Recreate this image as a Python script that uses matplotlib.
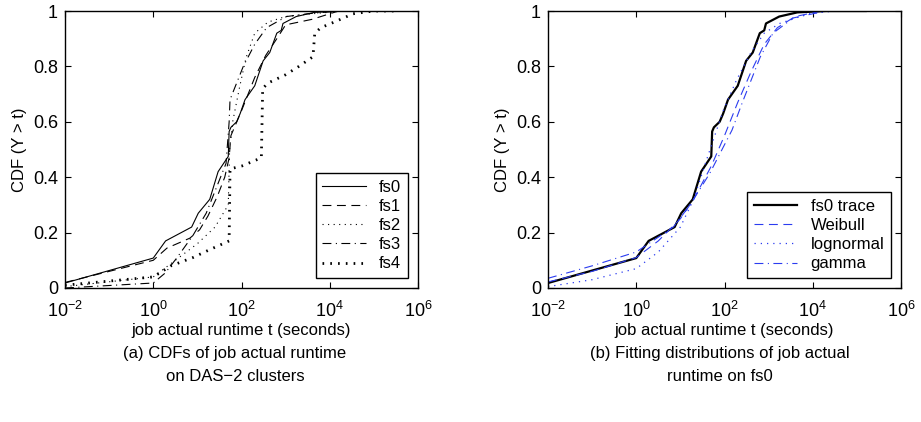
import numpy as np
import matplotlib
matplotlib.use('Agg')
import matplotlib.pyplot as plt

plt.rcParams['font.family'] = ['Liberation Sans', 'DejaVu Sans']
plt.rcParams['mathtext.fontset'] = 'custom'
plt.rcParams['mathtext.rm'] = 'Liberation Sans'

# Data (log10 of runtime in seconds, CDF value)
fs0_log = [-2, 0, 0.28, 0.87, 1.02, 1.28, 1.47, 1.70, 1.72, 1.76, 1.89, 1.97, 2.08, 2.30,
           2.49, 2.64, 2.80, 2.90, 2.94, 3.24, 3.65, 4.3, 5.2]
fs0_cdf = [0.018, 0.108, 0.17, 0.22, 0.27, 0.32, 0.42, 0.475, 0.565, 0.58, 0.60, 0.63, 0.68, 0.73,
           0.82, 0.85, 0.92, 0.93, 0.955, 0.98, 0.995, 1.0, 1.0]

fs1_log = [-2, 0, 0.31, 0.83, 1.05, 1.24, 1.45, 1.62, 1.72, 1.76, 2.0, 2.3, 2.55, 2.8, 3.0, 3.6, 4.2, 5.3]
fs1_cdf = [0.02, 0.10, 0.144, 0.18, 0.21, 0.26, 0.33, 0.40, 0.47, 0.55, 0.64, 0.76, 0.84, 0.90, 0.95, 0.97, 1.0, 1.0]

fs2_log = [-2, 0, 0.5, 1.0, 1.4, 1.7, 1.73, 1.8, 1.95, 2.1, 2.3, 2.6, 3.0, 3.6, 4.3, 5.5]
fs2_cdf = [0.005, 0.04, 0.10, 0.16, 0.22, 0.30, 0.50, 0.60, 0.72, 0.83, 0.92, 0.96, 0.98, 0.99, 1.0, 1.0]

fs3_log = [-2, 0, 0.27, 0.54, 0.9, 1.2, 1.45, 1.65, 1.72, 1.74, 2.04, 2.3, 2.57, 3.02, 3.5, 4.2, 5.5]
fs3_cdf = [0.0, 0.018, 0.054, 0.11, 0.19, 0.27, 0.37, 0.45, 0.60, 0.68, 0.80, 0.88, 0.94, 0.98, 0.99, 1.0, 1.0]

fs4_log = [-2, 0, 0.4, 0.9, 1.3, 1.72, 1.74, 2.0, 2.3, 2.45, 2.48, 2.6, 3.0, 3.3, 3.62, 3.66, 3.8, 4.1, 4.53, 5.0, 5.5]
fs4_cdf = [0.01, 0.04, 0.08, 0.11, 0.14, 0.17, 0.43, 0.44, 0.46, 0.47, 0.72, 0.74, 0.77, 0.80, 0.835, 0.92, 0.94, 0.96, 0.99, 1.0, 1.0]

weib_log = [-2, -1, 0, 0.5, 1.0, 1.3, 1.7, 2.0, 2.3, 2.6, 2.9, 3.2, 3.6, 4.2, 5.2]
weib_cdf = [0.022, 0.06, 0.11, 0.17, 0.25, 0.32, 0.44, 0.55, 0.67, 0.78, 0.88, 0.94, 0.98, 1.0, 1.0]

logn_log = [-2, -1, 0, 0.5, 1.0, 1.3, 1.63, 1.97, 2.27, 2.6, 2.9, 3.25, 3.9, 4.5, 5.2]
logn_cdf = [0.005, 0.03, 0.07, 0.13, 0.22, 0.32, 0.48, 0.64, 0.75, 0.85, 0.92, 0.955, 0.99, 1.0, 1.0]

gamma_log = [-2, -1, 0, 0.84, 1.22, 1.67, 2.17, 2.4, 2.81, 3.1, 3.56, 4.3, 5.2]
gamma_cdf = [0.035, 0.08, 0.13, 0.22, 0.30, 0.415, 0.57, 0.668, 0.834, 0.92, 0.975, 1.0, 1.0]

xticks = [1e-2, 1e0, 1e2, 1e4, 1e6]
xticklabels = ['$10^{-2}$', '$10^{0}$', '$10^{2}$', '$10^{4}$', '$10^{6}$']
yticks = [0, 0.2, 0.4, 0.6, 0.8, 1]
yticklabels = ['0', '0.2', '0.4', '0.6', '0.8', '1']

fig = plt.figure(figsize=(9.21, 4.22), dpi=100)
ax1 = fig.add_axes([65 / 921, 1 - 288 / 422, 353 / 921, 277 / 422])
ax2 = fig.add_axes([548 / 921, 1 - 288 / 422, 353 / 921, 277 / 422])


def tx(v):
    return 10 ** np.array(v)


# Left panel: CDFs on the five clusters
ax1.plot(tx(fs0_log), fs0_cdf, 'k-', lw=0.8, label='fs0')
ax1.plot(tx(fs1_log), fs1_cdf, 'k', lw=0.8, ls=(0, (8, 5)), label='fs1')
ax1.plot(tx(fs2_log), fs2_cdf, 'k', lw=0.8, ls=(0, (1, 4)), label='fs2')
ax1.plot(tx(fs3_log), fs3_cdf, 'k', lw=0.8, ls=(0, (8, 4, 1, 4)), label='fs3')
ax1.plot(tx(fs4_log), fs4_cdf, 'k', lw=2.0, ls=(0, (0.6, 2.2)), label='fs4')

# Right panel: fitted distributions
ax2.plot(tx(fs0_log), fs0_cdf, 'k-', lw=1.6, label='fs0 trace')
ax2.plot(tx(weib_log), weib_cdf, color='#2b3cf0', lw=0.8, ls=(0, (8, 5)), label='Weibull')
ax2.plot(tx(logn_log), logn_cdf, color='#2b3cf0', lw=0.9, ls=(0, (1, 4)), label='lognormal')
ax2.plot(tx(gamma_log), gamma_cdf, color='#2b3cf0', lw=0.8, ls=(0, (8, 4, 1, 4)), label='gamma')

for ax in (ax1, ax2):
    ax.set_xscale('log')
    ax.set_xlim(1e-2, 1e6)
    ax.set_ylim(0, 1)
    ax.set_xticks(xticks)
    ax.set_xticklabels(xticklabels)
    ax.xaxis.set_minor_locator(matplotlib.ticker.NullLocator())
    ax.set_yticks(yticks)
    ax.set_yticklabels(yticklabels)
    ax.tick_params(direction='in', top=True, right=True, labelsize=13, length=4, pad=5)
    ax.tick_params(axis='x', pad=9)
    ax.set_xlabel('job actual runtime t (seconds)', fontsize=12, labelpad=2)
    ax.set_ylabel('CDF (Y > t)', fontsize=12, labelpad=4)
    for s in ax.spines.values():
        s.set_linewidth(1.0)

leg_kw = dict(loc='lower right', fontsize=12, frameon=True, fancybox=False,
              edgecolor='black', framealpha=1, handlelength=2.6, borderpad=0.4,
              labelspacing=0.25, handletextpad=0.8, borderaxespad=0.6)
l1 = ax1.legend(**leg_kw)
l2 = ax2.legend(**leg_kw)
for lg in (l1, l2):
    lg.get_frame().set_linewidth(1.0)

fig.text(235 / 921, 1 - 365 / 422, '(a) CDFs of job actual runtime\non DAS\u22122 clusters',
         ha='center', va='center', fontsize=12, linespacing=1.6)
fig.text(720 / 921, 1 - 365 / 422, '(b) Fitting distributions of job actual\nruntime on fs0',
         ha='center', va='center', fontsize=12, linespacing=1.6)

fig.savefig('out.png', dpi=100)
